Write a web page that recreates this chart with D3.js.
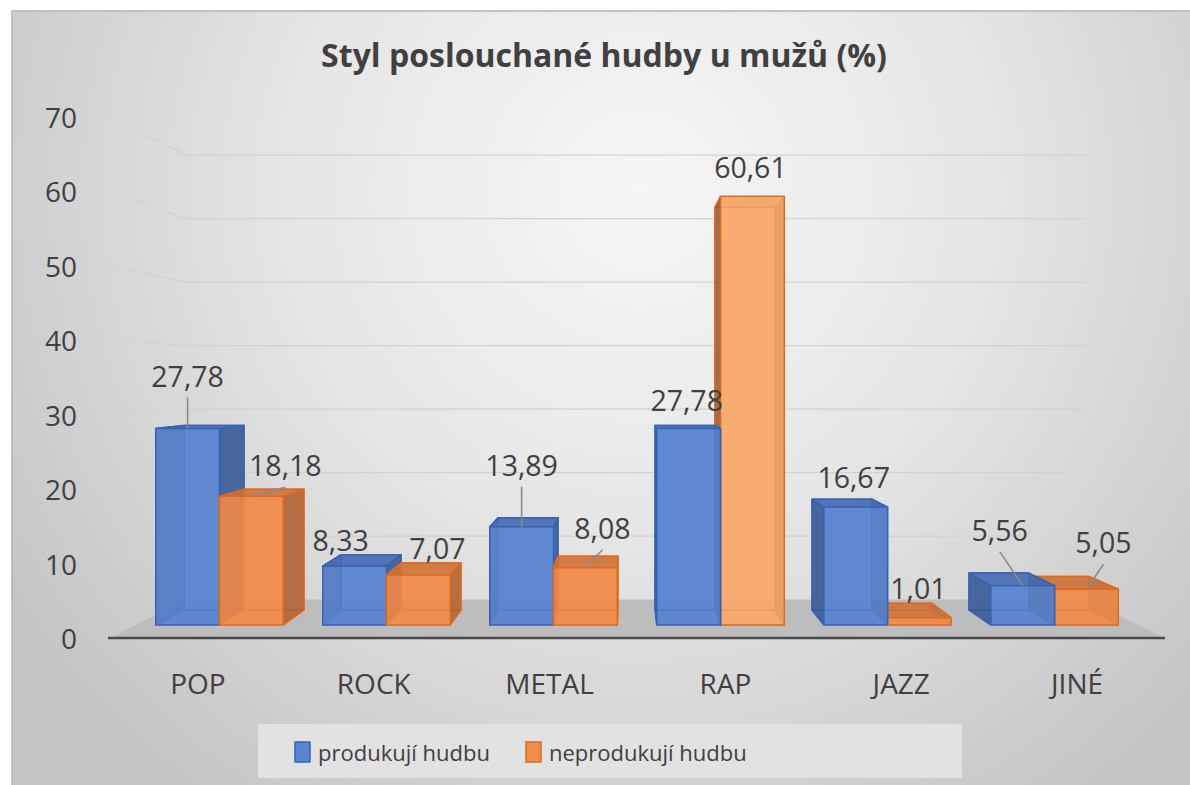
<!DOCTYPE html>
<html lang="cs">
<head>
<meta charset="UTF-8">
<title>Styl poslouchané hudby u mužů</title>
<script src="https://cdn.jsdelivr.net/npm/d3@7"></script>
<style>
  html, body { margin: 0; padding: 0; background: #fff; }
  svg { display: block; font-family: "Open Sans", sans-serif; }
</style>
</head>
<body>
<div id="chart"></div>
<script>
// data
const categories = ["POP", "ROCK", "METAL", "RAP", "JAZZ", "JINÉ"];
const seriesNames = ["produkují hudbu", "neprodukují hudbu"];
const produkuji = [27.78, 8.33, 13.89, 27.78, 16.67, 5.56];
const neprodukuji = [18.18, 7.07, 8.08, 60.61, 1.01, 5.05];
const yTicks = [0, 10, 20, 30, 40, 50, 60, 70];

// where the data labels were dragged to (dx, dy from the bar top)
const labelNudge = [
  [[0, -53], [-14, -26], [0, -62], [-2, -29], [-2, -30], [-23, -56]],
  [[34, -31], [19, -27], [17, -40], [-2, -29], [-1, -30], [17, -47]]
];

const width = 1190, height = 785;
const svg = d3.select("#chart").append("svg")
  .attr("width", width).attr("height", height);

const defs = svg.append("defs");
const bg = defs.append("radialGradient").attr("id", "bg")
  .attr("gradientUnits", "userSpaceOnUse")
  .attr("cx", 640).attr("cy", 190).attr("r", 760);
bg.append("stop").attr("offset", 0).attr("stop-color", "#f6f6f6");
bg.append("stop").attr("offset", 0.45).attr("stop-color", "#e6e6e6");
bg.append("stop").attr("offset", 1).attr("stop-color", "#c4c4c4");

svg.append("rect")
  .attr("x", 12).attr("y", 11).attr("width", width).attr("height", height)
  .attr("fill", "url(#bg)").attr("stroke", "#b4b4b4").attr("stroke-width", 1.5);

// front plane scales
const y = d3.scaleLinear().domain([0, 70]).range([638, 117]);
const x0 = d3.scaleBand().domain(categories).range([110, 1165]).padding(0);
const x1 = d3.scaleBand().domain(seriesNames).range([0, x0.bandwidth()]).paddingOuter(0.31);

// perspective: depth z from 0 (front) to 1 (back wall)
const vx = 628, vy = y(35.1), k = 0.1723;
const zBar0 = 0.306, zBar1 = 0.697;
function proj(xf, v, z) {
  const s = 1 / (1 + k * z);
  return [vx + (xf - vx) * s, vy + (y(v) - vy) * s];
}

const xL = x0.range()[0], xR = x0.range()[1];

// floor
svg.append("path")
  .attr("d", d3.line()([proj(xL, 0, 0), proj(xR, 0, 0), proj(xR, 0, 1), proj(xL, 0, 1)]))
  .attr("fill", "#bdbdbd");

// gridlines on side wall and back wall
const grid = svg.append("g").attr("fill", "none").attr("stroke", "#d2d2d2").attr("stroke-width", 1.3);
yTicks.filter(d => d > 0).forEach(v => {
  grid.append("path")
    .attr("d", d3.line()([proj(xL, v, 0), proj(xL, v, 1), proj(xR, v, 1)]));
});

// axis line
svg.append("line")
  .attr("x1", xL - 2).attr("x2", xR).attr("y1", y(0)).attr("y2", y(0))
  .attr("stroke", "#4a4a4a").attr("stroke-width", 2.5);

// y tick labels
svg.append("g").selectAll("text").data(yTicks).join("text")
  .attr("x", 77).attr("y", d => y(d))
  .attr("text-anchor", "end").attr("dominant-baseline", "central")
  .attr("font-size", 28).attr("fill", "#404040")
  .text(d => d);

// category labels
svg.append("g").selectAll("text").data(categories).join("text")
  .attr("x", d => x0(d) + x0.bandwidth() / 2).attr("y", 683)
  .attr("text-anchor", "middle").attr("dominant-baseline", "central")
  .attr("font-size", 28).attr("fill", "#404040")
  .text(d => d);

// bars
const palette = [
  { front: "#5a85cf", side: "#3c5a8e", top: "#4b6cad", stroke: "#3463b8" },
  { front: "#f08d4c", side: "#a8623a", top: "#c9733f", stroke: "#e0691f" }
];
const lighter = { front: "#f7aa6c", side: "#8f5a35", top: "#e59558", stroke: "#d96a24" };

const bars = [];
[produkuji, neprodukuji].forEach((vals, si) => {
  vals.forEach((v, ci) => {
    const a = x0(categories[ci]) + x1(seriesNames[si]);
    const b = a + x1.bandwidth();
    const col = (si === 1 && categories[ci] === "RAP") ? lighter : palette[si];
    bars.push({ si, ci, v, a, b, col });
  });
});
bars.sort((p, q) => Math.abs((q.a + q.b) / 2 - vx) - Math.abs((p.a + p.b) / 2 - vx));

const barG = svg.append("g");
bars.forEach(d => {
  const P = (xf, v, z) => proj(xf, v, z);
  const faces = {
    back: [P(d.a, 0, zBar1), P(d.b, 0, zBar1), P(d.b, d.v, zBar1), P(d.a, d.v, zBar1)],
    bottom: [P(d.a, 0, zBar0), P(d.b, 0, zBar0), P(d.b, 0, zBar1), P(d.a, 0, zBar1)],
    left: [P(d.a, 0, zBar0), P(d.a, 0, zBar1), P(d.a, d.v, zBar1), P(d.a, d.v, zBar0)],
    right: [P(d.b, 0, zBar0), P(d.b, 0, zBar1), P(d.b, d.v, zBar1), P(d.b, d.v, zBar0)],
    top: [P(d.a, d.v, zBar0), P(d.b, d.v, zBar0), P(d.b, d.v, zBar1), P(d.a, d.v, zBar1)],
    front: [P(d.a, 0, zBar0), P(d.b, 0, zBar0), P(d.b, d.v, zBar0), P(d.a, d.v, zBar0)]
  };
  const nearSide = (d.a + d.b) / 2 < vx ? "right" : "left";
  const farSide = nearSide === "right" ? "left" : "right";
  const topSeen = y(d.v) > vy;
  const order = ["back", "bottom", farSide];
  if (!topSeen) order.push("top");
  order.push(nearSide);
  if (topSeen) order.push("top");
  order.push("front");
  const fillOf = { back: d.col.front, bottom: d.col.front, left: d.col.side, right: d.col.side, top: d.col.top, front: d.col.front };
  order.forEach(f => {
    barG.append("path")
      .attr("d", d3.line()(faces[f]) + "Z")
      .attr("fill", fillOf[f]).attr("fill-opacity", 0.8)
      .attr("stroke", d.col.stroke).attr("stroke-width", 1.4).attr("stroke-linejoin", "round");
  });
});

// data labels with leader lines
const fmt = d3.formatLocale({ decimal: ",", thousands: " ", grouping: [3], currency: ["", " Kč"] }).format(".2f");
const labelG = svg.append("g");
bars.forEach(d => {
  const topPt = proj((d.a + d.b) / 2, d.v, zBar0);
  const [dx, dy] = labelNudge[d.si][d.ci];
  const lx = topPt[0] + dx, ly = topPt[1] + dy;
  const sx = lx, sy = ly + 22;
  if (Math.hypot(topPt[0] - sx, topPt[1] - sy) > 22) {
    labelG.append("line")
      .attr("x1", sx).attr("y1", sy).attr("x2", topPt[0]).attr("y2", topPt[1])
      .attr("stroke", "#8a8a8a").attr("stroke-width", 1.6);
  }
  labelG.append("text")
    .attr("x", lx).attr("y", ly)
    .attr("text-anchor", "middle").attr("dominant-baseline", "central")
    .attr("font-size", 28.5).attr("fill", "#404040")
    .text(fmt(d.v));
});

// title
svg.append("text")
  .attr("x", 604).attr("y", 54)
  .attr("text-anchor", "middle").attr("dominant-baseline", "central")
  .attr("font-size", 32).attr("font-weight", "bold").attr("fill", "#404040")
  .text("Styl poslouchané hudby u mužů (%)");

// legend
const legend = svg.append("g");
legend.append("rect")
  .attr("x", 258).attr("y", 724).attr("width", 704).attr("height", 54)
  .attr("fill", "#e2e2e2");
const legendX = [295, 526];
seriesNames.forEach((name, i) => {
  legend.append("rect")
    .attr("x", legendX[i]).attr("y", 742).attr("width", 15).attr("height", 20)
    .attr("fill", palette[i].front).attr("stroke", palette[i].stroke).attr("stroke-width", 1.5);
  legend.append("text")
    .attr("x", legendX[i] + 23).attr("y", 752)
    .attr("dominant-baseline", "central")
    .attr("font-size", 22).attr("fill", "#404040")
    .text(name);
});
</script>
</body>
</html>
